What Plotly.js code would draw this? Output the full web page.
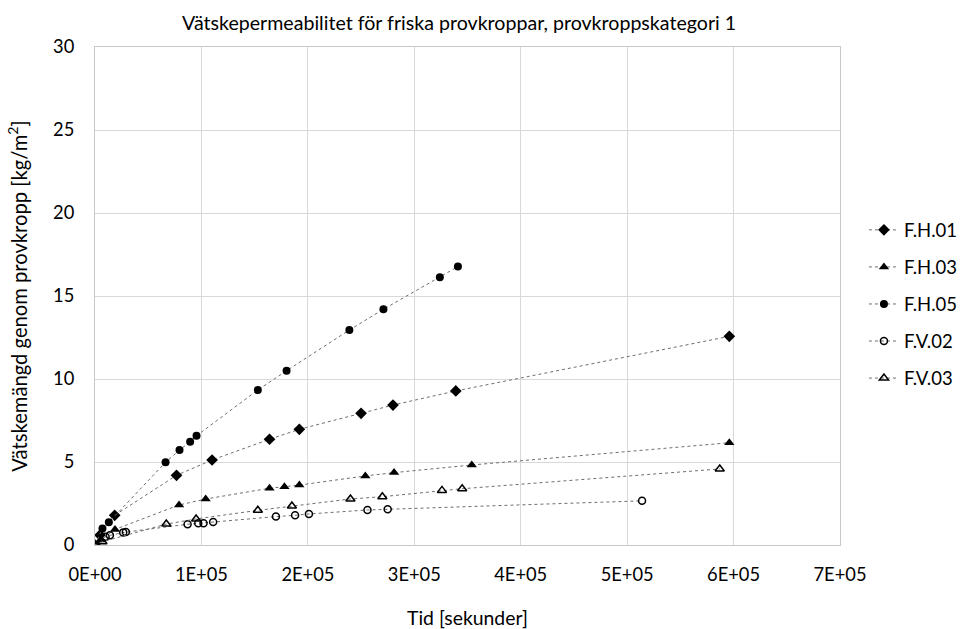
<!DOCTYPE html>
<html>
<head>
<meta charset="utf-8">
<script src="https://cdn.plot.ly/plotly-3.0.1.min.js"></script>
<style>html,body{margin:0;padding:0;background:#fff;}#chart{width:961px;height:629px;}</style>
</head>
<body>
<div id="chart"></div>
<script>
// Data
const seriesNames = ["F.H.01", "F.H.03", "F.H.05", "F.V.02", "F.V.03"];

const fh01_t = [0, 4700, 18500, 76600, 110000, 164000, 192000, 250000, 280000, 339000, 596000];
const fh01_m = [0, 0.6, 1.79, 4.2, 5.12, 6.37, 6.97, 7.93, 8.43, 9.28, 12.57];

const fh03_t = [0, 5000, 18800, 79000, 104000, 164000, 178000, 192000, 254000, 281000, 354000, 596000];
const fh03_m = [0, 0.3, 0.94, 2.41, 2.77, 3.42, 3.51, 3.61, 4.16, 4.36, 4.82, 6.16];

const fh05_t = [0, 7000, 13000, 66300, 79400, 89400, 95400, 153000, 180000, 239000, 271000, 324000, 341000];
const fh05_m = [0, 1.0, 1.37, 4.98, 5.72, 6.22, 6.58, 9.34, 10.5, 12.95, 14.2, 16.13, 16.77];

const fv02_t = [0, 10000, 14000, 26500, 29000, 87000, 97000, 102000, 111000, 170000, 188000, 201000, 256000, 275000, 514000];
const fv02_m = [0, 0.5, 0.58, 0.76, 0.78, 1.25, 1.31, 1.31, 1.39, 1.71, 1.79, 1.87, 2.11, 2.15, 2.66];

const fv03_t = [0, 7000, 67000, 95000, 153000, 185000, 240000, 270000, 326000, 345000, 587000];
const fv03_m = [0, 0.2, 1.26, 1.57, 2.09, 2.35, 2.77, 2.91, 3.29, 3.39, 4.58];

const xTickVals = [0, 100000, 200000, 300000, 400000, 500000, 600000, 700000];
const xTickText = ["0E+00", "1E+05", "2E+05", "3E+05", "4E+05", "5E+05", "6E+05", "7E+05"];
const yTickVals = [0, 5, 10, 15, 20, 25, 30];

const seriesX = [fh01_t, fh03_t, fh05_t, fv02_t, fv03_t];
const seriesY = [fh01_m, fh03_m, fh05_m, fv02_m, fv03_m];
const symbols = ["diamond", "triangle-up", "circle", "circle-open", "triangle-up-open"];
const sizes = [9, 9, 8, 7, 8];

const FONT = "Lato, 'Open Sans', sans-serif";

const traces = seriesNames.map((name, i) => ({
  type: "scatter",
  mode: "lines+markers",
  name: name,
  x: seriesX[i],
  y: seriesY[i],
  legendgroup: name,
  line: {color: "#6e6e6e", width: 1, dash: "dot"},
  marker: {symbol: symbols[i], size: sizes[i], color: "#000000",
           line: {color: "#000000", width: symbols[i].indexOf("open") >= 0 ? 1.5 : 0}}
}));

const layout = {
  width: 961, height: 629,
  paper_bgcolor: "#ffffff", plot_bgcolor: "#ffffff",
  margin: {l: 95, r: 121, t: 47, b: 84, autoexpand: false},
  font: {family: FONT, color: "#000000", size: 18},
  title: {text: "Vätskepermeabilitet för friska provkroppar, provkroppskategori 1",
          font: {family: FONT, size: 19.6, color: "#000"},
          xref: "paper", x: 0.4886, xanchor: "center",
          yref: "container", y: 0.9628, yanchor: "middle"},
  xaxis: {
    range: [0, 700000], tickvals: xTickVals, ticktext: xTickText,
    showgrid: true, gridcolor: "#d9d9d9", gridwidth: 1,
    showline: true, linecolor: "#c8c8c8", linewidth: 1, mirror: true,
    zeroline: false, ticks: "outside", ticklen: 13, tickcolor: "rgba(0,0,0,0)",
    tickfont: {family: FONT, size: 18.3, color: "#000"},
    title: {text: "Tid [sekunder]", font: {family: FONT, size: 19.4, color: "#000"}, standoff: 29}
  },
  yaxis: {
    range: [0, 30], tickvals: yTickVals,
    showgrid: true, gridcolor: "#d9d9d9", gridwidth: 1,
    showline: true, linecolor: "#c8c8c8", linewidth: 1, mirror: true,
    zeroline: false, ticks: "outside", ticklen: 16, tickcolor: "rgba(0,0,0,0)",
    tickfont: {family: FONT, size: 18.3, color: "#000"},
    title: {text: "Vätskemängd genom provkropp [kg/m<sup>2</sup>]", font: {family: FONT, size: 20.2, color: "#000"}, standoff: 20}
  },
  legend: {
    xref: "container", x: 0.899, xanchor: "left",
    yref: "paper", y: 0.670, yanchor: "top",
    font: {family: FONT, size: 18.5, color: "#000"},
    traceorder: "grouped", tracegroupgap: 10,
    itemwidth: 30, bgcolor: "rgba(0,0,0,0)"
  },
  showlegend: true
};

Plotly.newPlot("chart", traces, layout, {displayModeBar: false, staticPlot: true});
</script>
</body>
</html>
